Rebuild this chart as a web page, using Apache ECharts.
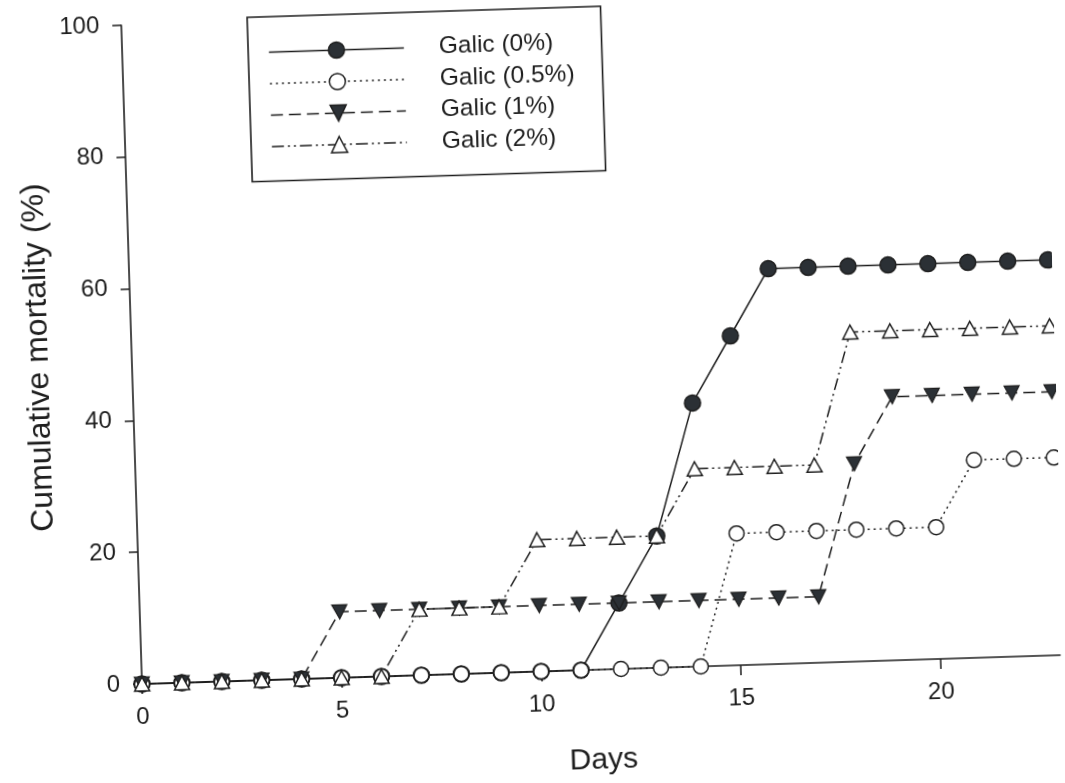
<!DOCTYPE html>
<html>
<head>
<meta charset="utf-8">
<title>Cumulative mortality – Galic</title>
<script src="https://cdn.jsdelivr.net/npm/echarts@6/dist/echarts.min.js"></script>
<style>
  html, body { margin: 0; padding: 0; background: #fff; overflow: hidden; width: 1065px; height: 783px; }
  #chart {
    position: absolute; left: 0; top: 0;
    width: 1065px; height: 800px;
    transform: rotate(-1.8deg);
    transform-origin: 142px 684px;
  }
</style>
</head>
<body>
<div id="chart"></div>
<script>
// Observation days
const days = [0, 1, 2, 3, 4, 5, 6, 7, 8, 9, 10, 11, 12, 13, 14, 15, 16, 17, 18, 19, 20, 21, 22, 23];

// Cumulative mortality (%) per treatment
const galic0  = [0, 0, 0, 0, 0, 0, 0, 0, 0, 0, 0, 0, 10, 20, 40, 50, 60, 60, 60, 60, 60, 60, 60, 60];
const galic05 = [0, 0, 0, 0, 0, 0, 0, 0, 0, 0, 0, 0, 0, 0, 0, 20, 20, 20, 20, 20, 20, 30, 30, 30];
const galic1  = [0, 0, 0, 0, 0, 10, 10, 10, 10, 10, 10, 10, 10, 10, 10, 10, 10, 10, 30, 40, 40, 40, 40, 40];
const galic2  = [0, 0, 0, 0, 0, 0, 0, 10, 10, 10, 20, 20, 20, 20, 30, 30, 30, 30, 50, 50, 50, 50, 50, 50];

const seriesNames = ['Galic (0%)', 'Galic (0.5%)', 'Galic (1%)', 'Galic (2%)'];
const xTicks = [0, 5, 10, 15, 20];
const yTicks = [0, 20, 40, 60, 80, 100];

const INK = '#1e1e1e';
const FILL = '#2b3035';
const FONT = '"Liberation Sans", Arial, Helvetica, sans-serif';

function pairs(vals) {
  return days.map((d, i) => [d, vals[i]]);
}

function lineSeries(name, vals, opts) {
  return Object.assign({
    name: name,
    type: 'line',
    data: pairs(vals),
    symbolSize: 15,
    showAllSymbol: true,
    clip: false,
    animation: false,
    lineStyle: { color: INK, width: 1.5 },
    emphasis: { disabled: true }
  }, opts);
}

const chart = echarts.init(document.getElementById('chart'), null, { renderer: 'canvas' });

chart.setOption({
  backgroundColor: '#fff',
  animation: false,
  textStyle: { fontFamily: FONT, color: INK },
  grid: { left: 142, top: 25, right: 4.5, bottom: 116, containLabel: false },
  legend: {
    orient: 'vertical',
    left: 268,
    top: 21,
    padding: [23, 28, 22, 20],
    itemGap: 6.5,
    itemWidth: 135,
    itemHeight: 20,
    backgroundColor: '#fff',
    borderColor: INK,
    borderWidth: 1.6,
    borderRadius: 0,
    selectedMode: false,
    lineStyle: { width: 1.5 },
    itemStyle: { borderWidth: 1.5 },
    textStyle: { fontSize: 24.5, color: INK, fontFamily: FONT, padding: [0, 0, 0, 30] },
    data: seriesNames
  },
  xAxis: {
    type: 'value',
    min: 0,
    max: 23,
    interval: 5,
    name: 'Days',
    nameLocation: 'middle',
    nameGap: 76,
    nameTextStyle: { fontSize: 30, color: INK, fontFamily: FONT },
    axisLine: { show: true, onZero: false, lineStyle: { color: INK, width: 1.6 } },
    axisTick: { show: true, inside: false, length: 10, customValues: xTicks, lineStyle: { color: INK, width: 1.5 } },
    axisLabel: { fontSize: 24, color: INK, margin: 21, customValues: xTicks, fontFamily: FONT },
    splitLine: { show: false },
    minorTick: { show: false }
  },
  yAxis: {
    type: 'value',
    min: 0,
    max: 100,
    interval: 20,
    name: 'Cumulative mortality (%)',
    nameLocation: 'middle',
    nameGap: 77,
    nameRotate: 90,
    nameTextStyle: { fontSize: 32, color: INK, fontFamily: FONT },
    axisLine: { show: true, onZero: false, lineStyle: { color: INK, width: 1.6 } },
    axisTick: { show: true, inside: false, length: 9, customValues: yTicks, lineStyle: { color: INK, width: 1.5 } },
    axisLabel: { fontSize: 24, color: INK, margin: 22, customValues: yTicks, fontFamily: FONT },
    splitLine: { show: false }
  },
  series: [
    lineSeries(seriesNames[0], galic0, {
      symbol: 'circle',
      symbolSize: 16,
      itemStyle: { color: FILL, borderColor: INK, borderWidth: 1.5 },
      lineStyle: { color: INK, width: 1.5, type: 'solid' }
    }),
    lineSeries(seriesNames[1], galic05, {
      symbol: 'circle',
      itemStyle: { color: '#fff', borderColor: INK, borderWidth: 1.5 },
      lineStyle: { color: INK, width: 1.5, type: [2, 4] }
    }),
    lineSeries(seriesNames[2], galic1, {
      symbol: 'triangle',
      symbolRotate: 180,
      symbolSize: [15, 14],
      itemStyle: { color: FILL, borderColor: INK, borderWidth: 1.2 },
      lineStyle: { color: INK, width: 1.5, type: [12, 6] }
    }),
    lineSeries(seriesNames[3], galic2, {
      symbol: 'triangle',
      symbolSize: [15, 14],
      itemStyle: { color: '#fff', borderColor: INK, borderWidth: 1.5 },
      lineStyle: { color: INK, width: 1.5, type: [12, 4, 2, 4, 2, 4] }
    })
  ]
});
</script>
</body>
</html>
